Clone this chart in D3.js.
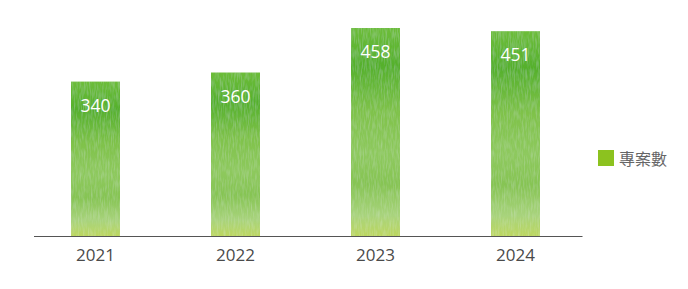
<!DOCTYPE html>
<html>
<head>
<meta charset="utf-8">
<script src="https://cdn.jsdelivr.net/npm/d3@7"></script>
<style>
  body { margin: 0; background: #fff; }
  svg { display: block; font-family: "Open Sans", "Noto Sans", sans-serif; }
</style>
</head>
<body>
<div id="chart"></div>
<script>
const years = ["2021", "2022", "2023", "2024"];
const projects = [340, 360, 458, 451];
const seriesName = "專案數";

const width = 688, height = 289;
const baseY = 236;

const svg = d3.select("#chart").append("svg")
    .attr("width", width)
    .attr("height", height);

// watercolor-ish green fill: vertical gradient + light grain
const defs = svg.append("defs");
const grad = defs.append("linearGradient")
    .attr("id", "barGrad")
    .attr("x1", 0).attr("y1", 0).attr("x2", 0).attr("y2", 1);
[[0, "#6dbd3a"], [0.18, "#55b02c"], [0.4, "#7fc24a"], [0.6, "#8ec95e"],
 [0.75, "#86c453"], [0.9, "#a8d37c"], [1, "#bcd760"]]
    .forEach(s => grad.append("stop").attr("offset", s[0]).attr("stop-color", s[1]));

const filt = defs.append("filter").attr("id", "grain")
    .attr("x", 0).attr("y", 0).attr("width", 1).attr("height", 1);
filt.append("feTurbulence")
    .attr("type", "fractalNoise")
    .attr("baseFrequency", "0.7 0.1")
    .attr("numOctaves", 2)
    .attr("seed", 3)
    .attr("result", "noise");
filt.append("feColorMatrix")
    .attr("in", "noise")
    .attr("type", "matrix")
    .attr("values", "0 0 0 0 1  0 0 0 0 1  0 0 0 0 1  0 0 0 -1.6 0.95")
    .attr("result", "speck");
filt.append("feComposite")
    .attr("in", "speck").attr("in2", "SourceGraphic")
    .attr("operator", "in").attr("result", "speckIn");
filt.append("feComponentTransfer").attr("in", "speckIn").attr("result", "soft")
    .append("feFuncA").attr("type", "linear").attr("slope", 0.18);
const merge = filt.append("feMerge");
merge.append("feMergeNode").attr("in", "SourceGraphic");
merge.append("feMergeNode").attr("in", "soft");

const x = d3.scaleBand()
    .domain(years)
    .range([25.5, 585.5])
    .paddingInner(0.65)
    .paddingOuter(0.325);

const y = d3.scaleLinear()
    .domain([0, 458])
    .range([baseY, 28]);

// bars
svg.selectAll(".bar")
    .data(projects)
    .enter().append("rect")
    .attr("class", "bar")
    .attr("x", (d, i) => x(years[i]))
    .attr("y", d => y(d))
    .attr("width", x.bandwidth())
    .attr("height", d => baseY - y(d))
    .attr("fill", "url(#barGrad)")
    .attr("filter", "url(#grain)");

// value labels
svg.selectAll(".val")
    .data(projects)
    .enter().append("text")
    .attr("class", "val")
    .attr("x", (d, i) => x(years[i]) + x.bandwidth() / 2)
    .attr("y", d => y(d) + 30)
    .attr("text-anchor", "middle")
    .attr("fill", "#fff")
    .style("font-size", "17.5px")
    .text(d => d);

// x axis
const xAxis = svg.append("g")
    .attr("transform", "translate(0," + (baseY + 0.5) + ")")
    .call(d3.axisBottom(x).tickSize(0).tickPadding(12));
xAxis.select(".domain").remove();
xAxis.selectAll("text")
    .attr("fill", "#4a4a4a")
    .style("font-size", "17px")
    .style("font-family", "'Open Sans', sans-serif");
svg.append("line")
    .attr("x1", 34).attr("x2", 582.5)
    .attr("y1", baseY + 0.5).attr("y2", baseY + 0.5)
    .attr("stroke", "#555").attr("stroke-width", 1.2);

// legend
const legend = svg.append("g").attr("transform", "translate(598,150)");
legend.append("rect")
    .attr("width", 16).attr("height", 16)
    .attr("fill", "#8cc21f");
legend.append("text")
    .attr("x", 21).attr("y", 14.5)
    .attr("fill", "#666")
    .style("font-size", "16px")
    .style("font-family", "'Noto Sans CJK TC', sans-serif")
    .text(seriesName);
</script>
</body>
</html>
